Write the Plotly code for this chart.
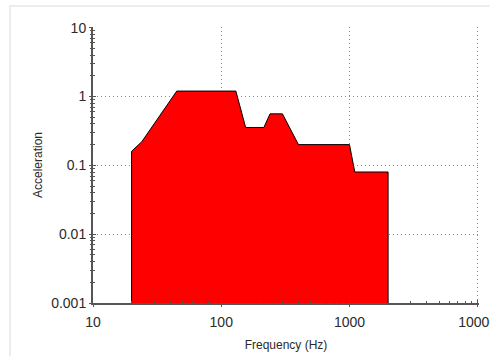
import plotly.graph_objects as go

# ---- data ----
freq_hz = [20, 20, 24, 45, 130, 155, 215, 240, 300, 400, 1000, 1100, 2000, 2000]
accel = [0.001, 0.16, 0.22, 1.2, 1.2, 0.355, 0.355, 0.56, 0.56, 0.2, 0.2, 0.08, 0.08, 0.001]

x_major = [10, 100, 1000, 10000]
x_major_text = ["10", "100", "1000", "10000"]
y_major = [0.001, 0.01, 0.1, 1, 10]
y_major_text = ["0.001", "0.01", "0.1", "1", "10"]

x_minor = [m * d for d in [10, 100, 1000] for m in range(2, 10)]
y_minor = [m * d for d in [0.001, 0.01, 0.1, 1] for m in range(2, 10)]

FONT = "Liberation Sans, Arial, sans-serif"
TXT = "#2b2b2b"
AX = "#555555"
GRID = "#8a8a8a"

fig = go.Figure()
fig.add_trace(go.Scatter(
    x=freq_hz, y=accel, mode="lines", fill="toself",
    fillcolor="#FF0000", line=dict(color="#000000", width=1),
    hoverinfo="x+y", showlegend=False,
))
# empty trace for the overlay axes that carry the outer half of the ticks
fig.add_trace(go.Scatter(x=[None], y=[None], xaxis="x2", yaxis="y2",
                         mode="markers", showlegend=False, hoverinfo="skip"))

# ranges reach slightly past the last decade so that the 10 / 10000 grid lines are drawn
XR = [1, 4.01]
YR = [-3, 1.01]

fig.update_layout(
    width=490, height=356,
    margin=dict(l=93, r=11, t=27, b=53),
    paper_bgcolor="white", plot_bgcolor="white",
    font=dict(family=FONT, color=TXT),
    xaxis=dict(
        type="log", range=XR,
        tickvals=x_major, ticktext=x_major_text,
        ticks="inside", ticklen=3, tickwidth=1, tickcolor=AX,
        minor=dict(tickvals=x_minor, ticks="inside", ticklen=2, tickwidth=1,
                   tickcolor=AX, showgrid=False),
        showline=True, linecolor=AX, linewidth=2, mirror=False,
        showgrid=True, gridcolor=GRID, gridwidth=1, griddash="1px,3px",
        zeroline=False, ticklabelstandoff=5, ticklabeloverflow="allow",
        tickfont=dict(size=14, color=TXT, family=FONT),
        title=dict(text="Frequency (Hz)", font=dict(size=12, color=TXT, family=FONT), standoff=12),
        automargin=False,
    ),
    yaxis=dict(
        type="log", range=YR,
        tickvals=y_major, ticktext=y_major_text,
        ticks="inside", ticklen=3, tickwidth=1, tickcolor=AX,
        minor=dict(tickvals=y_minor, ticks="inside", ticklen=2, tickwidth=1,
                   tickcolor=AX, showgrid=False),
        showline=True, linecolor=AX, linewidth=2, mirror=False,
        showgrid=True, gridcolor=GRID, gridwidth=1, griddash="1px,3px",
        zeroline=False, ticklabelstandoff=2, ticklabeloverflow="allow",
        tickfont=dict(size=14, color=TXT, family=FONT),
        title=dict(text="Acceleration", font=dict(size=12, color=TXT, family=FONT), standoff=6),
        automargin=False,
    ),
    xaxis2=dict(
        type="log", range=XR, overlaying="x", anchor="y", side="bottom",
        tickvals=x_major, showticklabels=False,
        ticks="outside", ticklen=3, tickwidth=1, tickcolor=AX,
        minor=dict(tickvals=x_minor, ticks="outside", ticklen=1, tickwidth=1,
                   tickcolor=AX, showgrid=False),
        showline=False, showgrid=False, zeroline=False,
    ),
    yaxis2=dict(
        type="log", range=YR, overlaying="y", anchor="x", side="left",
        tickvals=y_major, showticklabels=False,
        ticks="outside", ticklen=3, tickwidth=1, tickcolor=AX,
        minor=dict(tickvals=y_minor, ticks="outside", ticklen=2, tickwidth=1,
                   tickcolor=AX, showgrid=False),
        showline=False, showgrid=False, zeroline=False,
    ),
    shapes=[
        dict(type="rect", xref="paper", yref="paper",
             x0=-0.215, x1=1.6, y0=-0.6, y1=1.076,
             line=dict(color="#ececec", width=2), fillcolor="rgba(0,0,0,0)",
             layer="below"),
    ],
)

fig.write_html("out.html", config={"displayModeBar": False},
               post_script="document.body.style.margin='0';")
